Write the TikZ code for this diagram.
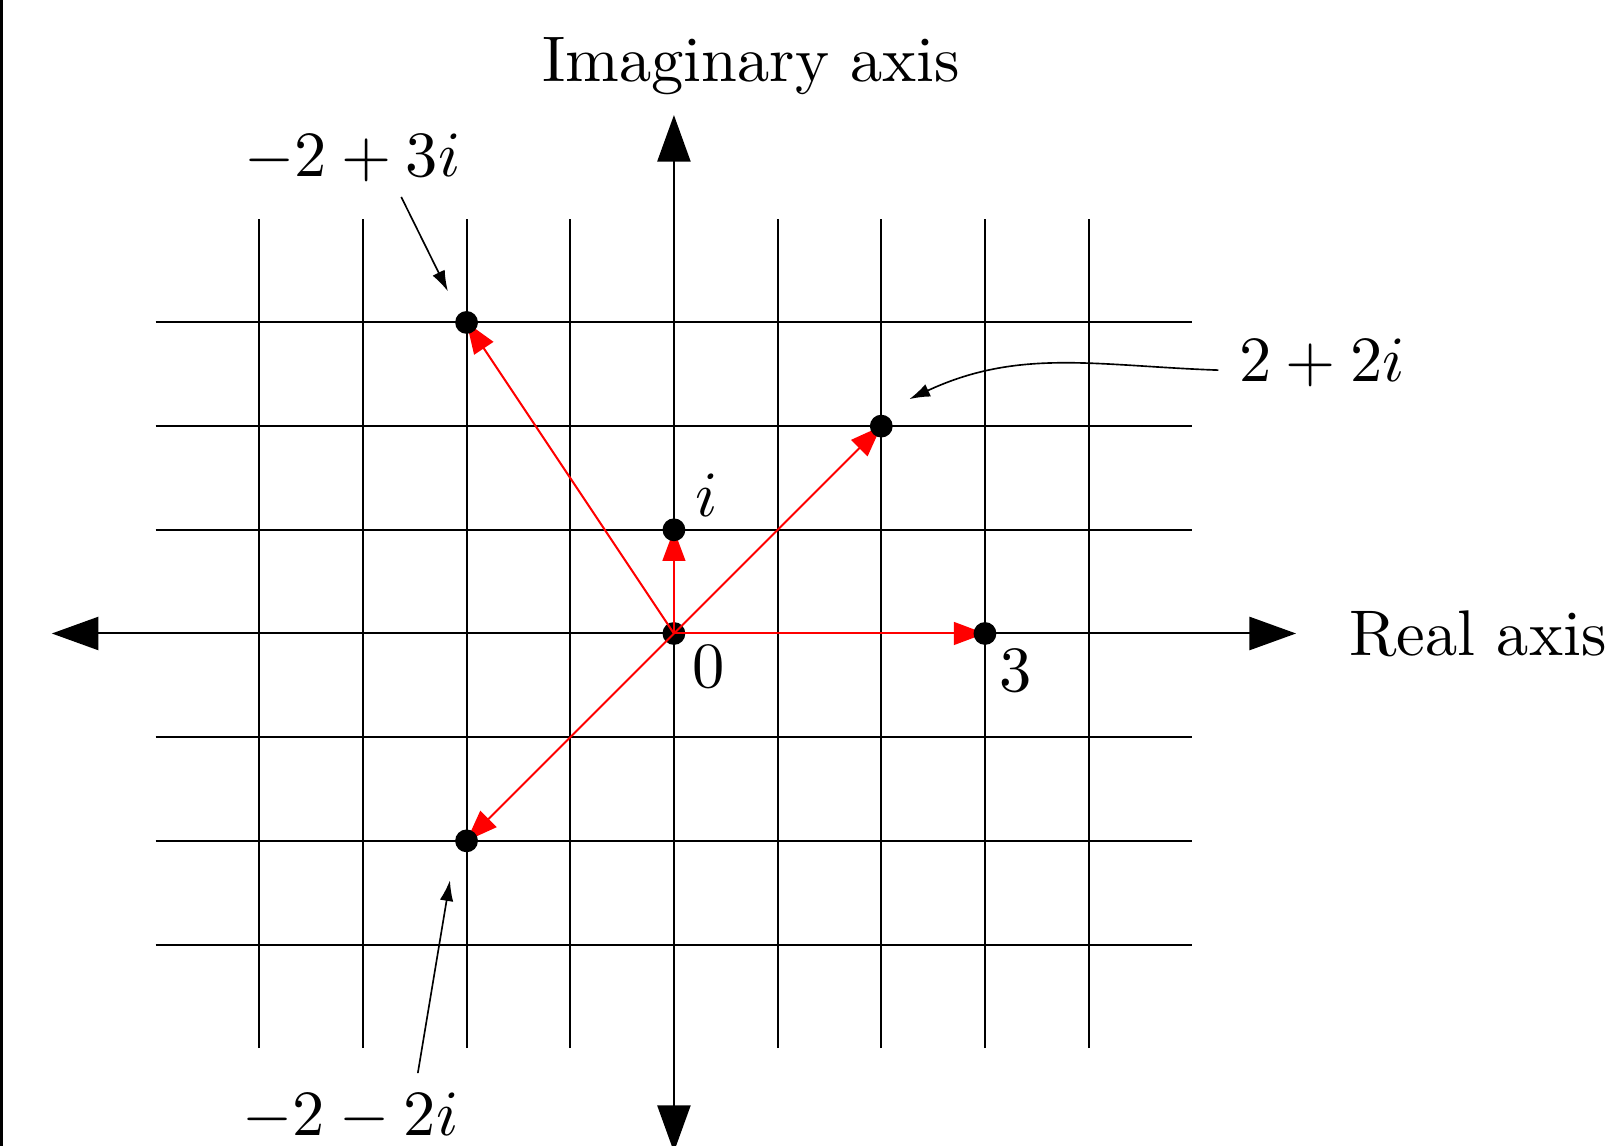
\documentclass[tikz,border=0pt]{standalone}
\usetikzlibrary{arrows.meta}
\begin{document}
\begin{tikzpicture}[
  gridline/.style={line width=0.55pt, draw=black},
  axisline/.style={line width=0.55pt, {Triangle[length=0.45cm,width=0.32cm]}-{Triangle[length=0.45cm,width=0.32cm]}},
  vec/.style={line width=0.55pt, draw=red, -{Triangle[length=0.3cm,width=0.22cm]}},
  note/.style={line width=0.45pt, -{Latex[length=0.2cm,width=0.13cm]}},
  lbl/.style={font=\normalsize, scale=1.77, inner sep=0pt, anchor=base},
  dot/.style={circle, fill=black, inner sep=0pt, minimum size=0.22cm}
]
\useasboundingbox (-6.50,-4.943) rectangle (8.98,6.11);
\fill[black] (-6.50,-4.943) rectangle (-6.47,6.11);
% grid
\foreach \x in {-4,...,4} \draw[gridline] (\x,-4) -- (\x,4);
\foreach \y in {-3,...,3} \draw[gridline] (-5,\y) -- (5,\y);
% axes
\coordinate (xl) at (-6,0);
\coordinate (xr) at (6,0);
\coordinate (yb) at (0,-5);
\coordinate (yt) at (0,5);
\draw[axisline] (xl) -- (xr);
\draw[axisline] (yb) -- (yt);
% points
\coordinate (pO) at (0,0);
\coordinate (pi) at (0,1);
\coordinate (p3) at (3,0);
\coordinate (p22) at (2,2);
\coordinate (pm23) at (-2,3);
\coordinate (pm2m2) at (-2,-2);
\node[dot] (dO) at (pO) {};
\draw[vec] (pO) -- (p3);
\draw[vec] (pO) -- (pi);
\draw[vec] (pO) -- (p22);
\draw[vec] (pO) -- (pm23);
\draw[vec] (pO) -- (pm2m2);
\node[dot] (di) at (pi) {};
\node[dot] (d3) at (p3) {};
\node[dot] (d22) at (p22) {};
\node[dot] (dm23) at (pm23) {};
\node[dot] (dm2m2) at (pm2m2) {};
% labels
\node[lbl] (li) at (0.315,1.13) {$i$};
\node[lbl] (l0) at (0.33,-0.52) {$0$};
\node[lbl] (l3) at (3.30,-0.56) {$3$};
\node[lbl] (l22) at (6.25,2.43) {$2+2i$};
\node[lbl] (lm23) at (-3.10,4.41) {$-2+3i$};
\node[lbl] (lm2m2) at (-3.12,-4.84) {$-2-2i$};
\node[lbl] (limag) at (0.745,5.32) {Imaginary axis};
\node[lbl, anchor=base west] (lreal) at (6.50,-0.21) {Real axis};
% annotation arrows
\coordinate (c1s) at (-2.63,4.21);
\coordinate (c1e) at (-2.18,3.30);
\coordinate (c2s) at (5.25,2.54);
\coordinate (c2e) at (2.27,2.26);
\coordinate (c3s) at (-2.47,-4.24);
\coordinate (c3e) at (-2.16,-2.38);
\draw[note] (c1s) -- (c1e);
\draw[note] (c2s) to[out=178,in=25] (c2e);
\draw[note] (c3s) -- (c3e);
\end{tikzpicture}
\end{document}
